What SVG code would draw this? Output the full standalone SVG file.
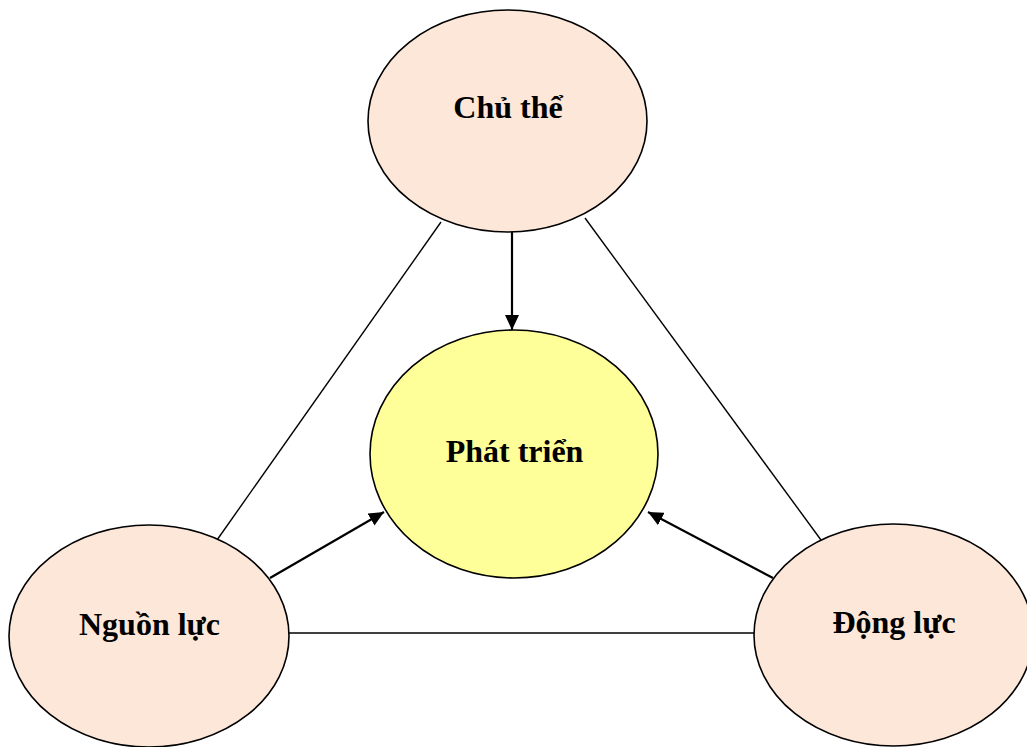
<svg xmlns="http://www.w3.org/2000/svg" width="1027" height="747" viewBox="0 0 1027 747">
<style>
.n{fill:#fce7d9;stroke:#000;stroke-width:1.6}
.c{fill:#ffff99;stroke:#000;stroke-width:1.6}
.t{font-family:"Liberation Serif","Times New Roman",serif;font-weight:bold;font-size:32px;fill:#000;text-anchor:middle}
.l{stroke:#000;stroke-width:1.4;fill:none}
.a{stroke:#000;stroke-width:2.2;fill:none;marker-end:url(#ah)}
</style>
<defs>
<marker id="ah" viewBox="0 0 15 14" refX="15" refY="7" markerWidth="15" markerHeight="14" markerUnits="userSpaceOnUse" orient="auto">
<path d="M0,0 L15,7 L0,14 z" fill="#000"/>
</marker>
</defs>
<rect width="1027" height="747" fill="#fff"/>
<g id="connectors">
<line class="l" x1="217" y1="540" x2="441" y2="222"/>
<line class="l" x1="585" y1="218" x2="821" y2="540"/>
<line class="l" x1="289" y1="633" x2="754" y2="633"/>
<line class="a" x1="512" y1="232" x2="512" y2="330"/>
<line class="a" x1="270" y1="578" x2="384" y2="512"/>
<line class="a" x1="773" y1="578" x2="648" y2="512"/>
</g>
<g id="chu-the">
<ellipse class="n" cx="507.5" cy="121" rx="139.5" ry="111"/>
<text class="t" x="508" y="118">Chủ thể</text>
</g>
<g id="phat-trien">
<ellipse class="c" cx="514" cy="454" rx="144" ry="124"/>
<text class="t" x="514.5" y="462">Phát triển</text>
</g>
<g id="nguon-luc">
<ellipse class="n" cx="149" cy="636" rx="140" ry="111"/>
<text class="t" x="149.5" y="635">Nguồn lực</text>
</g>
<g id="dong-luc">
<ellipse class="n" cx="893.5" cy="635" rx="139.5" ry="111"/>
<text class="t" x="894" y="633">Động lực</text>
</g>
</svg>
